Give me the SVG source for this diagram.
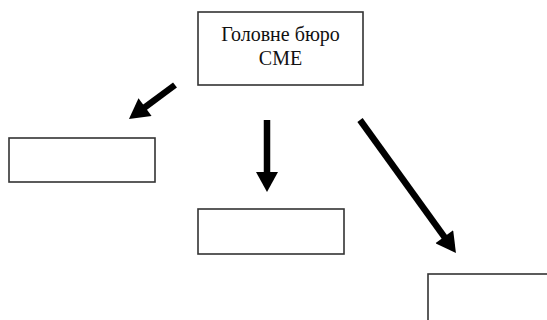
<svg xmlns="http://www.w3.org/2000/svg" width="547" height="320" viewBox="0 0 547 320">
<defs>
<style>
.box{fill:#fff;stroke:#333;stroke-width:1.6}
.lbl{font-family:"Liberation Serif","Times New Roman",serif;font-size:20px;fill:#111;text-anchor:middle}
.conn{stroke:#000;stroke-width:6.5;fill:none;marker-end:url(#ah)}
</style>
<marker id="ah" markerUnits="userSpaceOnUse" markerWidth="22" markerHeight="22" viewBox="0 0 20 22" refX="10" refY="11" orient="auto">
<path d="M0,0 L20,11 L0,22 z" fill="#000"/>
</marker>
</defs>
<rect width="547" height="320" fill="#fff"/>
<g id="head">
<rect class="box" x="198" y="12" width="165" height="73"/>
<text class="lbl" x="280.5" y="41">Головне бюро</text>
<text class="lbl" x="280.5" y="65">СМЕ</text>
</g>
<g id="left">
<rect class="box" x="9" y="138" width="146" height="44"/>
</g>
<g id="middle">
<rect class="box" x="198" y="209" width="146" height="45"/>
</g>
<g id="right">
<rect class="box" x="428" y="274" width="130" height="60"/>
</g>
<g id="connectors">
<line class="conn" x1="175" y1="85" x2="137" y2="113.1"/>
<line class="conn" x1="267" y1="120" x2="267" y2="182"/>
<line class="conn" x1="360" y1="120" x2="450.1" y2="244.9"/>
</g>
</svg>
